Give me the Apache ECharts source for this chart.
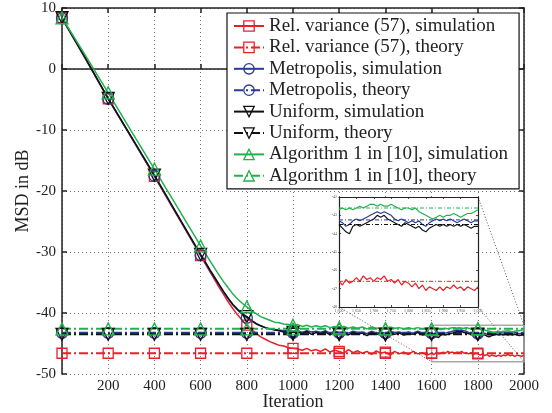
<!DOCTYPE html>
<html>
<head>
<meta charset="utf-8">
<script src="https://cdn.jsdelivr.net/npm/echarts@6/dist/echarts.min.js"></script>
<style>html,body{margin:0;padding:0;background:#fff}#c{width:552px;height:413px}</style>
</head>
<body>
<div id="c"></div>
<script>
// ---- data ----
const iterations = [0,100,200,300,400,500,600,
 620,640,660,680,700,720,740,760,780,800,820,840,860,880,900,920,940,960,980,1000,
 1020,1040,1060,1080,1100,1120,1140,1160,1180,1200,1220,1240,1260,1280,1300,1320,1340,1360,1380,1400,
 1420,1440,1460,1480,1500,1520,1540,1560,1580,1600,
 1610,1620,1630,1640,1650,1660,1670,1680,1690,1700,1710,1720,1730,1740,1750,1760,1770,1780,1790,1800,
 1810,1820,1830,1840,1850,1860,1870,1880,1890,1900,1910,1920,1930,1940,1950,1960,1970,1980,1990,2000];

const relVarSim = [8.4,1.8,-4.9,-11.2,-17.6,-24.1,-30.6,
 -31.9,-33.2,-34.5,-35.8,-37.0,-38.2,-39.3,-40.3,-41.2,-42.0,-42.7,-43.3,-43.9,-44.3,-44.7,-45.0,-45.3,-45.4,-45.7,-45.8,
 -45.9,-46.1,-45.8,-46.2,-46.0,-46.3,-45.9,-46.4,-46.1,-46.3,-46.6,-46.0,-46.5,-46.2,-46.6,-46.3,-46.8,-46.2,-46.6,-46.4,
 -46.9,-46.3,-46.7,-46.4,-46.8,-46.3,-46.7,-46.5,-46.9,-46.6,
 -46.8,-46.5,-46.7,-46.6,-46.4,-46.6,-46.3,-46.5,-46.4,-46.6,-46.4,-46.5,-46.3,-46.6,-46.5,-46.7,-46.5,-46.8,-46.6,-46.7,
 -46.9,-46.7,-47.0,-46.8,-47.1,-46.9,-47.0,-47.1,-46.9,-47.1,-46.9,-47.0,-46.8,-47.0,-46.9,-47.1,-46.9,-47.0,-47.1,-46.9];

const metroSim = [8.3,1.8,-4.9,-11.2,-17.5,-24.0,-30.5,
 -31.7,-33.0,-34.2,-35.4,-36.6,-37.7,-38.7,-39.5,-40.2,-40.8,-41.3,-41.8,-42.1,-42.4,-42.6,-42.7,-42.8,-42.9,-42.9,-43.0,
 -42.9,-43.2,-42.9,-43.1,-43.0,-43.2,-42.9,-43.3,-43.0,-43.2,-43.1,-43.3,-43.0,-43.2,-43.1,-43.4,-43.0,-43.3,-43.1,-43.3,
 -43.0,-43.2,-43.1,-43.3,-43.1,-43.3,-43.0,-43.3,-43.1,-43.3,
 -43.4,-43.6,-43.5,-43.3,-43.2,-43.3,-43.2,-43.1,-43.0,-42.9,-42.8,-42.9,-42.8,-42.9,-43.0,-43.2,-43.3,-43.2,-43.3,-43.4,
 -43.3,-43.4,-43.3,-43.5,-43.6,-43.4,-43.3,-43.2,-43.3,-43.2,-43.3,-43.2,-43.3,-43.4,-43.3,-43.2,-43.3,-43.4,-43.3,-43.3];

const uniformSim = [8.4,1.9,-4.8,-11.1,-17.4,-23.9,-30.4,
 -31.6,-32.9,-34.1,-35.3,-36.5,-37.6,-38.6,-39.4,-40.1,-40.6,-41.2,-41.7,-42.1,-42.4,-42.6,-42.8,-42.9,-43.1,-43.0,-43.2,
 -43.1,-43.4,-43.0,-43.5,-43.2,-43.4,-43.1,-43.6,-43.2,-43.5,-43.3,-43.6,-43.2,-43.5,-43.3,-43.7,-43.2,-43.5,-43.4,-43.6,
 -43.2,-43.5,-43.3,-43.6,-43.4,-43.5,-43.2,-43.6,-43.4,-43.5,
 -43.7,-43.9,-44.0,-43.6,-43.5,-43.6,-43.5,-43.4,-43.3,-43.2,-43.0,-43.1,-43.0,-43.2,-43.3,-43.4,-43.5,-43.6,-43.4,-43.5,
 -43.6,-43.7,-43.6,-43.8,-43.9,-43.7,-43.6,-43.5,-43.6,-43.5,-43.6,-43.5,-43.6,-43.5,-43.6,-43.5,-43.6,-43.7,-43.6,-43.6];

const algSim = [8.4,2.3,-3.9,-10.2,-16.4,-22.7,-29.0,
 -30.2,-31.4,-32.6,-33.8,-34.9,-35.9,-36.9,-37.7,-38.4,-39.0,-39.6,-40.1,-40.6,-40.9,-41.2,-41.5,-41.6,-41.8,-41.9,-42.0,
 -41.9,-42.2,-42.0,-42.3,-42.1,-42.3,-42.1,-42.4,-42.2,-42.4,-42.2,-42.5,-42.3,-42.5,-42.3,-42.6,-42.3,-42.5,-42.4,-42.6,
 -42.3,-42.5,-42.4,-42.6,-42.4,-42.6,-42.4,-42.6,-42.5,-42.7,
 -42.6,-42.7,-42.6,-42.7,-42.6,-42.5,-42.6,-42.5,-42.4,-42.4,-42.5,-42.4,-42.5,-42.5,-42.4,-42.5,-42.6,-42.7,-42.6,-42.6,
 -42.7,-42.6,-42.8,-42.9,-43.0,-43.1,-43.2,-43.1,-43.0,-43.1,-43.0,-43.0,-42.9,-43.0,-43.1,-43.0,-42.9,-42.9,-42.8,-42.7];

const theoryIters = [0,200,400,600,800,1000,1200,1400,1600,1800,2000];
const relVarTheory  = [-46.6,-46.6,-46.6,-46.6,-46.6,-46.6,-46.6,-46.6,-46.6,-46.6,-46.6];
const metroTheory   = [-43.25,-43.25,-43.25,-43.25,-43.25,-43.25,-43.25,-43.25,-43.25,-43.25,-43.25];
const uniformTheory = [-43.5,-43.5,-43.5,-43.5,-43.5,-43.5,-43.5,-43.5,-43.5,-43.5,-43.5];
const algTheory     = [-42.6,-42.6,-42.6,-42.6,-42.6,-42.6,-42.6,-42.6,-42.6,-42.6,-42.6];

const xTicks = [0,200,400,600,800,1000,1200,1400,1600,1800,2000];
const yTicks = [-50,-40,-30,-20,-10,0,10];
const zoomX = [1600,2000];
const zoomY = [-48,-42];

const seriesNames = ['Rel. variance (57), simulation','Rel. variance (57), theory',
 'Metropolis, simulation','Metropolis, theory','Uniform, simulation','Uniform, theory',
 'Algorithm 1 in [10], simulation','Algorithm 1 in [10], theory'];

// ---- styling ----
const FONT = "'Liberation Serif','Times New Roman',serif";
const RED = '#e8202a', BLUE = '#2b3a92', BLACK = '#111111', GREEN = '#22b24c';
const DASHDOT = [9,3,2,3];

const chart = echarts.init(document.getElementById('c'), null, {renderer:'canvas'});

function pairs(xs, ys, lo) {
  const out = [];
  xs.forEach((x,i) => { if (x >= lo) out.push([x, ys[i]]); });
  return out;
}
function withMarkers(pts) {
  return pts.map(p => (p[0] % 200 === 0 && p[0] < 2000) ? {value:p} : {value:p, symbol:'none'});
}
function mainSeries(name, xs, ys, color, symbol, rot, dashed, size) {
  return {
    name, type:'line', xAxisIndex:0, yAxisIndex:0,
    data: withMarkers(pairs(xs, ys, 0)),
    symbol, symbolSize:size, symbolRotate:rot, showSymbol:true, showAllSymbol:true,
    itemStyle:{color:'rgba(0,0,0,0)', borderColor:color, borderWidth:1.3},
    lineStyle:{color, width: dashed ? 2 : 1.5, type: dashed ? DASHDOT : 'solid'},
    animation:false, silent:true
  };
}
function insetSeries(name, xs, ys, color, dashed) {
  return {
    name: name + ' inset', type:'line', xAxisIndex:2, yAxisIndex:2,
    data: pairs(xs, ys, zoomX[0]), symbol:'none', z:7,
    lineStyle:{color, width: dashed ? 1 : 1.2, type: dashed ? [4,2,1,2] : 'solid'},
    animation:false, silent:true
  };
}

const rectPts = [[zoomX[0],zoomY[1]],[zoomX[1],zoomY[1]],[zoomX[1],zoomY[0]],[zoomX[0],zoomY[0]],[zoomX[0],zoomY[1]]];

const axisLineStyle = {color:'#222', width:1.5};
const labelStyle = {color:'#222', fontFamily:FONT, fontSize:15};

const option = {
  backgroundColor:'#fff',
  animation:false,
  grid:[
    {left:62, right:28, top:8, bottom:39, show:false, outerBoundsMode:'none', containLabel:false},
    {left:339, top:197, width:139, height:110, show:true, backgroundColor:'#fff', borderWidth:0, z:5,
     outerBoundsMode:'none', containLabel:false}
  ],
  legend:{
    data: seriesNames, orient:'vertical', left:227, top:13,
    padding:[3.5,11,3.5,6], itemWidth:30, itemHeight:13, itemGap:2.4,
    backgroundColor:'#fff', borderColor:'#111', borderWidth:1.2,
    textStyle:{fontFamily:FONT, fontSize:19, color:'#222', lineHeight:18},
    itemStyle:{borderWidth:1.3},
    selectedMode:false, z:10
  },
  xAxis:[
    {type:'value', gridIndex:0, min:xTicks[0], max:xTicks[xTicks.length-1], interval:200,
     name:'Iteration', nameLocation:'middle', nameGap:19, nameMoveOverlap:false,
     nameTextStyle:{fontFamily:FONT, fontSize:18, color:'#222'},
     axisLine:{show:true, lineStyle:axisLineStyle},
     axisTick:{show:true, inside:true, length:5, lineStyle:axisLineStyle},
     axisLabel:Object.assign({margin:5, formatter:v => v === 0 ? '' : String(v)}, labelStyle),
     splitLine:{show:true, lineStyle:{color:'#777', width:1, type:[1,3]}}},
    {type:'value', gridIndex:0, position:'top', min:xTicks[0], max:xTicks[xTicks.length-1], interval:200,
     axisLine:{show:true, onZero:false, lineStyle:axisLineStyle},
     axisTick:{show:true, inside:true, length:5, lineStyle:axisLineStyle},
     axisLabel:{show:false}, splitLine:{show:false}},
    {type:'value', gridIndex:1, min:zoomX[0], max:zoomX[1], interval:50, z:6,
     axisLine:{show:true, onZero:false, lineStyle:{color:'#222', width:1.2}},
     axisTick:{show:true, inside:true, length:2, lineStyle:{color:'#222', width:0.8}},
     axisLabel:{show:true, fontSize:4, color:'#555', margin:2, fontFamily:FONT},
     splitLine:{show:false}},
    {type:'value', gridIndex:1, position:'top', min:zoomX[0], max:zoomX[1], interval:50, z:6,
     axisLine:{show:true, onZero:false, lineStyle:{color:'#222', width:1.2}},
     axisTick:{show:true, inside:true, length:2, lineStyle:{color:'#222', width:0.8}},
     axisLabel:{show:false}, splitLine:{show:false}}
  ],
  yAxis:[
    {type:'value', gridIndex:0, min:yTicks[0], max:yTicks[yTicks.length-1], interval:10,
     name:'MSD in dB', nameLocation:'middle', nameGap:30, nameRotate:90, nameMoveOverlap:false,
     nameTextStyle:{fontFamily:FONT, fontSize:18, color:'#222'},
     axisLine:{show:true, onZero:false, lineStyle:axisLineStyle},
     axisTick:{show:true, inside:true, length:5, lineStyle:axisLineStyle},
     axisLabel:Object.assign({margin:6}, labelStyle),
     splitLine:{show:true, lineStyle:{color:'#777', width:1, type:[1,3]}}},
    {type:'value', gridIndex:0, position:'right', min:yTicks[0], max:yTicks[yTicks.length-1], interval:10,
     axisLine:{show:true, onZero:false, lineStyle:axisLineStyle},
     axisTick:{show:true, inside:true, length:5, lineStyle:axisLineStyle},
     axisLabel:{show:false}, splitLine:{show:false}},
    {type:'value', gridIndex:1, min:zoomY[0], max:zoomY[1], interval:1, z:6,
     axisLine:{show:true, onZero:false, lineStyle:{color:'#222', width:1.2}},
     axisTick:{show:true, inside:true, length:2, lineStyle:{color:'#222', width:0.8}},
     axisLabel:{show:true, fontSize:4, color:'#555', margin:2, fontFamily:FONT},
     splitLine:{show:false}},
    {type:'value', gridIndex:1, position:'right', min:zoomY[0], max:zoomY[1], interval:1, z:6,
     axisLine:{show:true, onZero:false, lineStyle:{color:'#222', width:1.2}},
     axisTick:{show:true, inside:true, length:2, lineStyle:{color:'#222', width:0.8}},
     axisLabel:{show:false}, splitLine:{show:false}}
  ],
  series:[
    {name:'zoom box', type:'line', xAxisIndex:0, yAxisIndex:0, data:rectPts, symbol:'none',
     lineStyle:{color:'#aaaaaa', width:1.5}, z:1, silent:true},
    mainSeries(seriesNames[0], iterations, relVarSim, RED, 'rect', 0, false, 10),
    mainSeries(seriesNames[1], theoryIters, relVarTheory, RED, 'rect', 0, true, 10),
    mainSeries(seriesNames[2], iterations, metroSim, BLUE, 'circle', 0, false, 11),
    mainSeries(seriesNames[3], theoryIters, metroTheory, BLUE, 'circle', 0, true, 11),
    mainSeries(seriesNames[4], iterations, uniformSim, BLACK, 'triangle', 180, false, 12),
    mainSeries(seriesNames[5], theoryIters, uniformTheory, BLACK, 'triangle', 180, true, 12),
    mainSeries(seriesNames[6], iterations, algSim, GREEN, 'triangle', 0, false, 12),
    mainSeries(seriesNames[7], theoryIters, algTheory, GREEN, 'triangle', 0, true, 12),
    insetSeries(seriesNames[0], iterations, relVarSim, RED, false),
    insetSeries(seriesNames[1], theoryIters, relVarTheory, RED, true),
    insetSeries(seriesNames[2], iterations, metroSim, BLUE, false),
    insetSeries(seriesNames[3], theoryIters, metroTheory, BLUE, true),
    insetSeries(seriesNames[4], iterations, uniformSim, BLACK, false),
    insetSeries(seriesNames[5], theoryIters, uniformTheory, BLACK, true),
    insetSeries(seriesNames[6], iterations, algSim, GREEN, false),
    insetSeries(seriesNames[7], theoryIters, algTheory, GREEN, true)
  ]
};
chart.setOption(option);

// connector lines between the inset corners and the zoom box corners
const ins = (x,y) => chart.convertToPixel({xAxisIndex:2, yAxisIndex:2}, [x,y]);
const box = (x,y) => chart.convertToPixel({xAxisIndex:0, yAxisIndex:0}, [x,y]);
const links = [
  [ins(zoomX[1],zoomY[1]), box(zoomX[1],zoomY[1])],
  [ins(zoomX[1],zoomY[0]), box(zoomX[1],zoomY[0])],
  [ins(zoomX[0],zoomY[0]), box(zoomX[0],zoomY[0])]
];
chart.setOption({graphic: links.map(l => ({
  type:'line', silent:true, z:4,
  shape:{x1:l[0][0], y1:l[0][1], x2:l[1][0], y2:l[1][1]},
  style:{stroke:'#555', lineWidth:1, lineDash:[1,2]}
}))});
</script>
</body>
</html>
